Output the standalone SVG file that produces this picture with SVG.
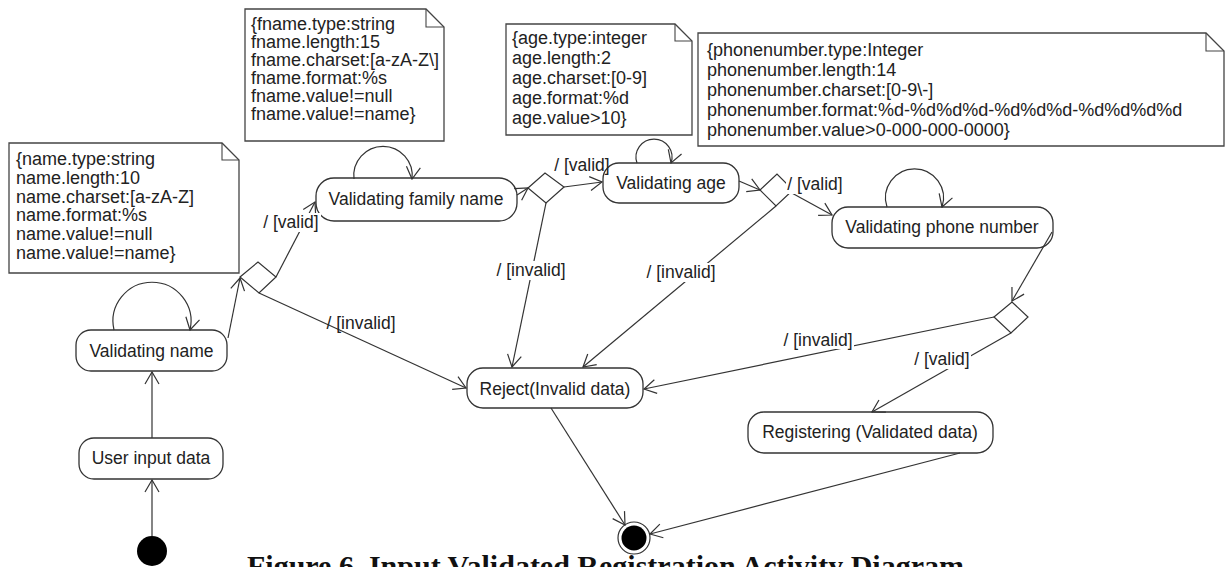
<svg xmlns="http://www.w3.org/2000/svg" width="1225" height="567" viewBox="0 0 1225 567">
  <style>
    .note { fill: #fff; stroke: #444; stroke-width: 1.3; }
    .fold { fill: none; stroke: #444; stroke-width: 1.1; }
    .node { fill: #fff; stroke: #333; stroke-width: 1.3; }
    .dia { fill: #fff; stroke: #333; stroke-width: 1.2; }
    .edge { fill: none; stroke: #333; stroke-width: 1.2; marker-end: url(#open); }
    .ntxt { font-family: "Liberation Sans", Arial, sans-serif; font-size: 18px; fill: #222; }
    .ltxt { font-family: "Liberation Sans", Arial, sans-serif; font-size: 17.5px; fill: #222; text-anchor: middle; dominant-baseline: central; }
    .lbl { font-family: "Liberation Sans", Arial, sans-serif; font-size: 17.5px; fill: #222; text-anchor: middle; dominant-baseline: central; }
    .bg { fill: #fff; }
    .cap { font-family: "Liberation Serif", "Times New Roman", serif; font-size: 30px; font-weight: bold; fill: #111; }
  </style>
  <defs>
    <marker id="open" viewBox="0 0 14 16" refX="13" refY="8" markerWidth="14" markerHeight="16" markerUnits="userSpaceOnUse" orient="auto">
      <path d="M1,1 L13,8 L1,15" fill="none" stroke="#333" stroke-width="1.2"/>
    </marker>
  </defs>
  <rect width="1225" height="567" fill="#fff"/>

  <!-- constraint notes -->
  <g id="note-name">
    <path class="note" d="M9,143 H222 L239,160 V273 H9 Z"/>
    <path class="fold" d="M222,143 V160 H239"/>
    <text class="ntxt" x="16" y="165">{name.type:string</text>
    <text class="ntxt" x="16" y="184">name.length:10</text>
    <text class="ntxt" x="16" y="203">name.charset:[a-zA-Z]</text>
    <text class="ntxt" x="16" y="221">name.format:%s</text>
    <text class="ntxt" x="16" y="240">name.value!=null</text>
    <text class="ntxt" x="16" y="259">name.value!=name}</text>
  </g>
  <g id="note-fname">
    <path class="note" d="M245,9 H426 L444,27 V141 H245 Z"/>
    <path class="fold" d="M426,9 V27 H444"/>
    <text class="ntxt" x="251" y="30">{fname.type:string</text>
    <text class="ntxt" x="251" y="48">fname.length:15</text>
    <text class="ntxt" x="251" y="66">fname.charset:[a-zA-Z\]</text>
    <text class="ntxt" x="251" y="84">fname.format:%s</text>
    <text class="ntxt" x="251" y="102">fname.value!=null</text>
    <text class="ntxt" x="251" y="120">fname.value!=name}</text>
  </g>
  <g id="note-age">
    <path class="note" d="M506,24 H675 L692,41 V135 H506 Z"/>
    <path class="fold" d="M675,24 V41 H692"/>
    <text class="ntxt" x="512" y="44">{age.type:integer</text>
    <text class="ntxt" x="512" y="64">age.length:2</text>
    <text class="ntxt" x="512" y="84">age.charset:[0-9]</text>
    <text class="ntxt" x="512" y="104">age.format:%d</text>
    <text class="ntxt" x="512" y="124">age.value&gt;10}</text>
  </g>
  <g id="note-phone">
    <path class="note" d="M698,33 H1206 L1224,51 V146 H698 Z"/>
    <path class="fold" d="M1206,33 V51 H1224"/>
    <text class="ntxt" x="707" y="56">{phonenumber.type:Integer</text>
    <text class="ntxt" x="707" y="76">phonenumber.length:14</text>
    <text class="ntxt" x="707" y="96">phonenumber.charset:[0-9\-]</text>
    <text class="ntxt" x="707" y="116">phonenumber.format:%d-%d%d%d-%d%d%d-%d%d%d%d</text>
    <text class="ntxt" x="707" y="136">phonenumber.value&gt;0-000-000-0000}</text>
  </g>

  <!-- start and end -->
  <g id="initial">
    <circle cx="152" cy="551" r="15" fill="#000"/>
  </g>
  <g id="final">
    <circle cx="634" cy="538" r="16" fill="#fff" stroke="#333" stroke-width="1.2"/>
    <circle cx="634" cy="538" r="12.5" fill="#000"/>
  </g>

  <!-- activities -->
  <g id="user-input">
    <rect class="node" x="79" y="438" width="144" height="41" rx="15"/>
    <text class="ltxt" x="151" y="458">User input data</text>
  </g>
  <g id="validating-name">
    <rect class="node" x="76" y="330" width="151" height="41" rx="15"/>
    <text class="ltxt" x="151.5" y="351">Validating name</text>
  </g>
  <g id="validating-family-name">
    <rect class="node" x="316" y="178" width="201" height="43" rx="18"/>
    <text class="ltxt" x="416" y="199">Validating family name</text>
  </g>
  <g id="validating-age">
    <rect class="node" x="603" y="163" width="136" height="40" rx="16"/>
    <text class="ltxt" x="671" y="183">Validating age</text>
  </g>
  <g id="validating-phone">
    <rect class="node" x="832" y="207" width="221" height="41" rx="16"/>
    <text class="ltxt" x="942" y="227">Validating phone number</text>
  </g>
  <g id="reject">
    <rect class="node" x="467" y="368" width="176" height="40" rx="16"/>
    <text class="ltxt" x="555" y="389">Reject(Invalid data)</text>
  </g>
  <g id="registering">
    <rect class="node" x="748" y="412" width="245" height="41" rx="16"/>
    <text class="ltxt" x="870" y="432">Registering (Validated data)</text>
  </g>

  <!-- decisions -->
  <g id="decision-name"><path class="dia" d="M240,277 L258,262 L276,277 L259,293 Z"/></g>
  <g id="decision-family"><path class="dia" d="M528,188 L545,173 L564,187 L546,203 Z"/></g>
  <g id="decision-age"><path class="dia" d="M760,190 L777,174 L793,190 L776,206 Z"/></g>
  <g id="decision-phone"><path class="dia" d="M994,317 L1012,302 L1028,317 L1011,333 Z"/></g>

  <!-- transitions -->
  <g id="connectors">
    <path class="edge" d="M152,536 L152,480"/>
    <path class="edge" d="M152,438 L152,372"/>
    <path class="edge" d="M114,330 A39,39 0 1 1 190,330"/>
    <path class="edge" d="M228,338 L240,278"/>
    <path class="edge" d="M276,277 L315,202"/>
    <path class="edge" d="M354,179 A29.2,29.2 0 1 1 412,179"/>
    <path class="edge" d="M517,195 L528,188"/>
    <path class="edge" d="M564,187 L602,182"/>
    <path class="edge" d="M546,203 L512,367"/>
    <path class="edge" d="M637,163 A18,18 0 1 1 671,163"/>
    <path class="edge" d="M739,181 L760,190"/>
    <path class="edge" d="M790,192 L832,215"/>
    <path class="edge" d="M776,206 L583,367"/>
    <path class="edge" d="M887,207 A29,29 0 1 1 942,207"/>
    <path class="edge" d="M1052,232 L1012,301"/>
    <path class="edge" d="M994,317 L644,389"/>
    <path class="edge" d="M1011,333 L872,412"/>
    <path class="edge" d="M259,293 L466,388"/>
    <path class="edge" d="M551,408 L625,525"/>
    <path class="edge" d="M960,453 L650,534"/>

    <!-- guard labels -->
    <rect class="bg" x="262" y="213" width="59" height="19"/>
    <text class="lbl" x="291" y="222">/ [valid]</text>
    <text class="lbl" x="582" y="165">/ [valid]</text>
    <rect class="bg" x="495" y="261" width="72" height="19"/>
    <text class="lbl" x="531" y="270">/ [invalid]</text>
    <text class="lbl" x="361" y="323">/ [invalid]</text>
    <rect class="bg" x="786" y="176" width="57" height="18"/>
    <text class="lbl" x="815" y="184">/ [valid]</text>
    <rect class="bg" x="645" y="263" width="72" height="19"/>
    <text class="lbl" x="681" y="272">/ [invalid]</text>
    <rect class="bg" x="782" y="331" width="72" height="18"/>
    <text class="lbl" x="818" y="340">/ [invalid]</text>
    <rect class="bg" x="913" y="350" width="58" height="19"/>
    <text class="lbl" x="942" y="359">/ [valid]</text>
  </g>

  <text class="cap" x="247" y="576">Figure 6. Input Validated Registration Activity Diagram</text>
</svg>
